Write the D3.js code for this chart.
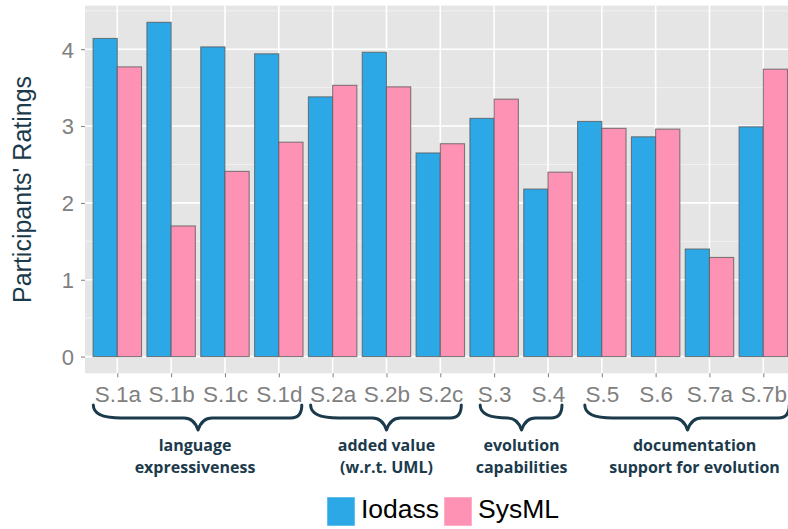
<!DOCTYPE html>
<html><head><meta charset="utf-8">
<script src="https://cdn.jsdelivr.net/npm/d3@7"></script>
<style>html,body{margin:0;padding:0;background:#fff;overflow:hidden}</style>
</head><body><svg id="chart" width="788" height="529"></svg>
<script>
const categories = ["S.1a","S.1b","S.1c","S.1d","S.2a","S.2b","S.2c","S.3","S.4","S.5","S.6","S.7a","S.7b"];
const seriesNames = ["Iodass","SysML"];
const iodass = [4.14, 4.35, 4.03, 3.94, 3.38, 3.96, 2.65, 3.10, 2.18, 3.06, 2.86, 1.40, 2.99];
const sysml  = [3.77, 1.70, 2.41, 2.79, 3.53, 3.51, 2.77, 3.35, 2.40, 2.97, 2.96, 1.29, 3.74];
const yTicks = [0, 1, 2, 3, 4];
const groupLabels = [["language","expressiveness"],["added value","(w.r.t. UML)"],["evolution","capabilities"],["documentation","support for evolution"]];
const groupFirst = ["S.1a","S.2a","S.3","S.5"];
const groupLast  = ["S.1d","S.2c","S.4","S.7b"];
const yLabel = "Participants' Ratings";

const colors = {Iodass:"#2ca8e6", SysML:"#fe92b5"};
const navy = "#1b3a4b";
const svg = d3.select("#chart");
const P = {left:85, right:795.6, top:5.6, bottom:373.3};

const y = d3.scaleLinear().domain([-0.2175, 4.5675]).range([P.bottom, P.top]);
const x = d3.scalePoint().domain(categories).range([P.left, P.right]).padding(0.6);
const step = x.step();
const sub = d3.scaleBand().domain(seriesNames).range([-0.45*step, 0.45*step]);

// panel
svg.append("rect").attr("x",P.left).attr("y",P.top).attr("width",P.right-P.left).attr("height",P.bottom-P.top).attr("fill","#e5e5e5");
const minor = [0.5,1.5,2.5,3.5,4.5];
svg.selectAll(".minor").data(minor).join("line")
  .attr("x1",P.left).attr("x2",P.right).attr("y1",d=>y(d)).attr("y2",d=>y(d))
  .attr("stroke","#f2f2f2").attr("stroke-width",1);
svg.selectAll(".majorH").data(yTicks).join("line")
  .attr("x1",P.left).attr("x2",P.right).attr("y1",d=>y(d)).attr("y2",d=>y(d))
  .attr("stroke","#fff").attr("stroke-width",1.6);
svg.selectAll(".majorV").data(categories).join("line")
  .attr("y1",P.top).attr("y2",P.bottom).attr("x1",d=>x(d)).attr("x2",d=>x(d))
  .attr("stroke","#fff").attr("stroke-width",1.6);

// bars
const rows = categories.map((c,i)=>({cat:c, vals:[{s:"Iodass",v:iodass[i]},{s:"SysML",v:sysml[i]}]}));
const g = svg.selectAll(".grp").data(rows).join("g").attr("transform",d=>`translate(${x(d.cat)},0)`);
g.selectAll("rect").data(d=>d.vals).join("rect")
  .attr("x",d=>sub(d.s)).attr("width",sub.bandwidth())
  .attr("y",d=>y(d.v)).attr("height",d=>y(0)-y(d.v))
  .attr("fill",d=>colors[d.s]).attr("stroke","#5a5a5a").attr("stroke-opacity",0.75).attr("stroke-width",1.1);

// axes
const yAxis = svg.append("g").attr("transform",`translate(${P.left},0)`)
  .call(d3.axisLeft(y).tickValues(yTicks).tickFormat(d3.format("d")).tickSize(4).tickPadding(7));
yAxis.select(".domain").remove();
yAxis.selectAll("line").attr("stroke","#7f7f7f");
yAxis.selectAll("text").attr("fill","#808080").attr("font-family","Liberation Sans, Arial, sans-serif").attr("font-size",22).attr("dy","0.36em");

const xAxis = svg.append("g").attr("transform",`translate(0,${P.bottom})`)
  .call(d3.axisBottom(x).tickSize(4).tickPadding(4));
xAxis.select(".domain").remove();
xAxis.selectAll("line").attr("stroke","#7f7f7f");
xAxis.selectAll("text").attr("fill","#808080").attr("font-family","Liberation Sans, Arial, sans-serif").attr("font-size",22.5).attr("dy","0.9em");

// y label
svg.append("text").attr("transform",`translate(31,${(P.top+P.bottom)/2}) rotate(-90)`)
  .attr("text-anchor","middle").attr("fill",navy)
  .attr("font-family","Liberation Sans, Arial, sans-serif").attr("font-size",25).text(yLabel);

// braces
const braceInset = [[24,24],[22,22],[14,15],[17,27]];
const y0 = 405;
groupLabels.forEach((lab,i)=>{
  const x1 = x(groupFirst[i]) - braceInset[i][0];
  const x2 = x(groupLast[i]) + braceInset[i][1];
  const xm = (x1+x2)/2;
  const h = 13, d = 25;
  const path = `M${x1},${y0} C${x1},${y0+9} ${x1+10},${y0+h} ${x1+28},${y0+h} L${xm-14},${y0+h} Q${xm-4},${y0+h} ${xm},${y0+d} Q${xm+4},${y0+h} ${xm+14},${y0+h} L${x2-12},${y0+h} Q${x2-1},${y0+h} ${x2-1},${y0}`;
  svg.append("path").attr("d",path).attr("fill","none").attr("stroke",navy).attr("stroke-width",3).attr("stroke-linecap","round").attr("stroke-linejoin","round");
  const t = svg.append("text").attr("text-anchor","middle").attr("fill",navy)
    .attr("font-family","Open Sans, sans-serif").attr("font-weight",700).attr("font-size",16);
  lab.forEach((line,j)=>t.append("tspan").attr("x",xm + (i===3?7:(i===0?-3:0))).attr("y",451+j*22).text(line));
});

// legend
const leg = svg.append("g");
const legX = [327, 444];
seriesNames.forEach((s,i)=>{
  leg.append("rect").attr("x",legX[i]).attr("y",497).attr("width",28).attr("height",29)
    .attr("fill",colors[s]).attr("stroke","#fff").attr("stroke-opacity",0.5);
  leg.append("text").attr("x",legX[i]+34).attr("y",517.5).attr("fill","#000")
    .attr("font-family","Liberation Sans, Arial, sans-serif").attr("font-size",26.5).text(s);
});
</script></body></html>
